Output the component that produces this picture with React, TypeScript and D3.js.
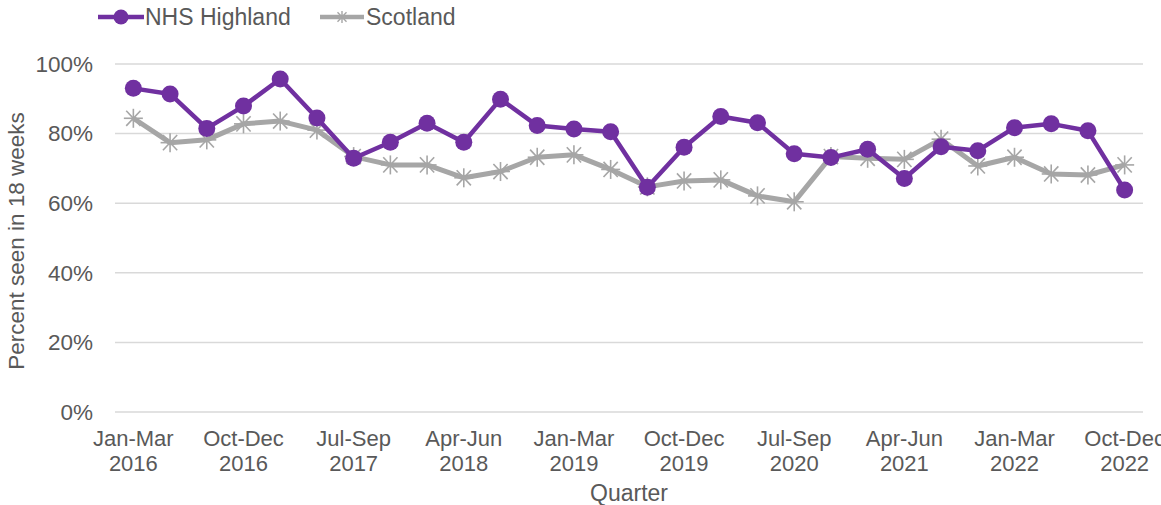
import React from "react";
import * as d3 from "d3";

const quarters = [
  "Jan-Mar 2016","Apr-Jun 2016","Jul-Sep 2016","Oct-Dec 2016",
  "Jan-Mar 2017","Apr-Jun 2017","Jul-Sep 2017","Oct-Dec 2017",
  "Jan-Mar 2018","Apr-Jun 2018","Jul-Sep 2018","Oct-Dec 2018",
  "Jan-Mar 2019","Apr-Jun 2019","Jul-Sep 2019","Oct-Dec 2019",
  "Jan-Mar 2020","Apr-Jun 2020","Jul-Sep 2020","Oct-Dec 2020",
  "Jan-Mar 2021","Apr-Jun 2021","Jul-Sep 2021","Oct-Dec 2021",
  "Jan-Mar 2022","Apr-Jun 2022","Jul-Sep 2022","Oct-Dec 2022",
];
const highland = [
  93.0, 91.4, 81.5, 87.9, 95.7, 84.5, 72.9, 77.5, 83.0, 77.5,
  89.9, 82.3, 81.3, 80.5, 64.6, 76.1, 84.9, 83.1, 74.2, 73.1,
  75.5, 67.1, 76.2, 75.1, 81.7, 82.8, 80.8, 63.8,
];
const scotland = [
  84.4, 77.4, 78.2, 82.8, 83.6, 81.0, 73.4, 71.0, 71.0, 67.3,
  69.1, 73.2, 73.9, 69.7, 64.7, 66.4, 66.7, 62.1, 60.4, 73.4,
  72.9, 72.6, 78.4, 70.7, 73.2, 68.4, 68.1, 71.0,
];
const yTicks = [0, 20, 40, 60, 80, 100];

const W = 1161, H = 505;
const left = 115, right = 1143, top = 64, bottom = 412;
const PURPLE = "#7030A0";
const GRAY = "#A6A6A6";
const TEXT = "#595959";
const FONT = "Liberation Sans, Arial, sans-serif";

export default function App() {
  const x = d3.scalePoint<string>().domain(quarters).range([left, right]).padding(0.5);
  const y = d3.scaleLinear().domain([0, 100]).range([bottom, top]);
  const line = d3.line<number>().x((_, i) => x(quarters[i])!).y((d) => y(d));

  const star = (cx: number, cy: number, key: string, r = 9.5, sw = 1.6) => (
    <g key={key} stroke={GRAY} strokeWidth={sw}>
      <line x1={cx - r} y1={cy} x2={cx + r} y2={cy} />
      <line x1={cx - r * 0.75} y1={cy - r * 0.8} x2={cx + r * 0.75} y2={cy + r * 0.8} />
      <line x1={cx - r * 0.75} y1={cy + r * 0.8} x2={cx + r * 0.75} y2={cy - r * 0.8} />
      <line x1={cx} y1={cy - r} x2={cx} y2={cy + r} />
    </g>
  );

  return (
    <svg width={W} height={H} style={{ position: "absolute", left: 0, top: 0, background: "#fff" }} fontFamily={FONT}>
      {yTicks.map((t) => (
        <g key={t}>
          <line x1={left} x2={right} y1={y(t)} y2={y(t)} stroke="#D9D9D9" strokeWidth={1.5} />
          <text x={93} y={y(t)} dy="0.35em" textAnchor="end" fontSize={22.5} fill={TEXT}>{t}%</text>
        </g>
      ))}
      {quarters.map((q, i) =>
        i % 3 === 0 ? (
          <text key={q} x={x(q)} y={446} textAnchor="middle" fontSize={22} fill={TEXT}>
            <tspan x={x(q)}>{q.split(" ")[0]}</tspan>
            <tspan x={x(q)} dy={25}>{q.split(" ")[1]}</tspan>
          </text>
        ) : null
      )}
      <text x={629} y={501} textAnchor="middle" fontSize={23} fill={TEXT}>Quarter</text>
      <text transform={`translate(24,${241}) rotate(-90)`} textAnchor="middle" fontSize={22.5} fill={TEXT}>Percent seen in 18 weeks</text>

      <path d={line(scotland)!} fill="none" stroke={GRAY} strokeWidth={5} strokeLinejoin="round" />
      {scotland.map((v, i) => star(x(quarters[i])!, y(v), "s" + i))}
      <path d={line(highland)!} fill="none" stroke={PURPLE} strokeWidth={4.5} strokeLinejoin="round" />
      {highland.map((v, i) => (
        <circle key={"h" + i} cx={x(quarters[i])!} cy={y(v)} r={8.5} fill={PURPLE} />
      ))}

      <g>
        <line x1={98} x2={144} y1={17} y2={17} stroke={PURPLE} strokeWidth={4.5} />
        <circle cx={121} cy={17} r={7.5} fill={PURPLE} />
        <text x={145} y={17} dy="0.35em" fontSize={23} fill={TEXT}>NHS Highland</text>
        <line x1={320} x2={364} y1={17} y2={17} stroke={GRAY} strokeWidth={4.5} />
        {star(342, 17, "leg", 6, 1.4)}
        <text x={366} y={17} dy="0.35em" fontSize={23} fill={TEXT}>Scotland</text>
      </g>
    </svg>
  );
}
